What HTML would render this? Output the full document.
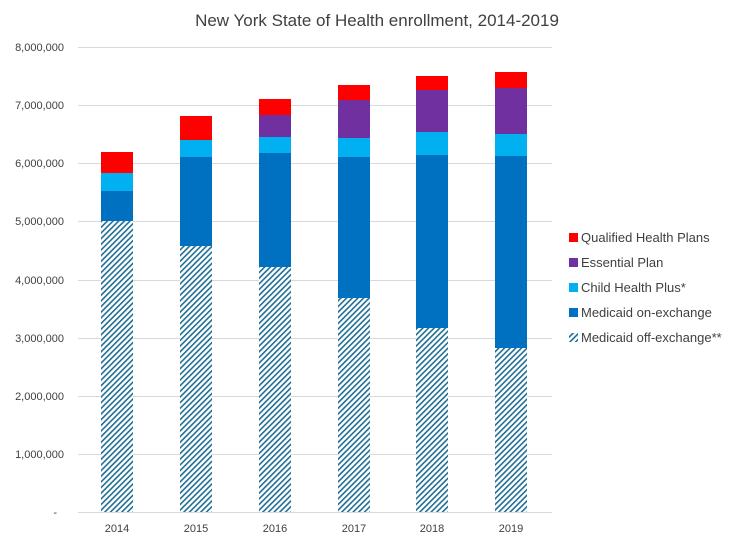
<!DOCTYPE html>
<html><head><meta charset="utf-8"><style>
html,body{margin:0;padding:0;background:#fff;}
svg{display:block;font-family:"Liberation Sans",sans-serif;}
</style></head><body>
<svg width="754" height="547" viewBox="0 0 754 547">
<defs>
<pattern id="h" patternUnits="userSpaceOnUse" width="4" height="4" patternTransform="rotate(45)">
<rect width="4" height="4" fill="#fff"/><rect width="1.6" height="4" fill="#1f6e93"/>
</pattern>
</defs>
<rect width="754" height="547" fill="#fff"/>
<text x="377" y="26" font-size="17" text-anchor="middle" fill="#404040">New York State of Health enrollment, 2014-2019</text>
<g stroke="#d9d9d9" stroke-width="1">
<line x1="78" x2="552" y1="47.5" y2="47.5"/><line x1="78" x2="552" y1="105.5" y2="105.5"/>
<line x1="78" x2="552" y1="163.5" y2="163.5"/><line x1="78" x2="552" y1="221.5" y2="221.5"/>
<line x1="78" x2="552" y1="280.5" y2="280.5"/><line x1="78" x2="552" y1="338.5" y2="338.5"/>
<line x1="78" x2="552" y1="396.5" y2="396.5"/><line x1="78" x2="552" y1="454.5" y2="454.5"/>
<line x1="78" x2="552" y1="512.5" y2="512.5"/>
</g>
<g font-size="11" fill="#404040" text-anchor="end">
<text x="64" y="51">8,000,000</text><text x="64" y="109">7,000,000</text>
<text x="64" y="167">6,000,000</text><text x="64" y="225">5,000,000</text>
<text x="64" y="284">4,000,000</text><text x="64" y="342">3,000,000</text>
<text x="64" y="400">2,000,000</text><text x="64" y="458">1,000,000</text>
<text x="57" y="516">-</text>
</g>
<g font-size="11" fill="#404040" text-anchor="middle">
<text x="117" y="532">2014</text><text x="196" y="532">2015</text><text x="275" y="532">2016</text>
<text x="354" y="532">2017</text><text x="432" y="532">2018</text><text x="511" y="532">2019</text>
</g>
<g transform="translate(101,0)">
<rect y="221" width="32" height="291" fill="url(#h)"/>
<rect y="191" width="32" height="30" fill="#0070c0"/>
<rect y="173" width="32" height="18" fill="#00b0f0"/>
<rect y="152" width="32" height="21" fill="#ff0000"/>
</g>
<g transform="translate(180,0)">
<rect y="246" width="32" height="266" fill="url(#h)"/>
<rect y="157" width="32" height="89" fill="#0070c0"/>
<rect y="140" width="32" height="17" fill="#00b0f0"/>
<rect y="116" width="32" height="24" fill="#ff0000"/>
</g>
<g transform="translate(259,0)">
<rect y="267" width="32" height="245" fill="url(#h)"/>
<rect y="153" width="32" height="114" fill="#0070c0"/>
<rect y="137" width="32" height="16" fill="#00b0f0"/>
<rect y="115" width="32" height="22" fill="#7030a0"/>
<rect y="99" width="32" height="16" fill="#ff0000"/>
</g>
<g transform="translate(338,0)">
<rect y="298" width="32" height="214" fill="url(#h)"/>
<rect y="157" width="32" height="141" fill="#0070c0"/>
<rect y="138" width="32" height="19" fill="#00b0f0"/>
<rect y="100" width="32" height="38" fill="#7030a0"/>
<rect y="85" width="32" height="15" fill="#ff0000"/>
</g>
<g transform="translate(416,0)">
<rect y="328" width="32" height="184" fill="url(#h)"/>
<rect y="155" width="32" height="173" fill="#0070c0"/>
<rect y="132" width="32" height="23" fill="#00b0f0"/>
<rect y="90" width="32" height="42" fill="#7030a0"/>
<rect y="76" width="32" height="14" fill="#ff0000"/>
</g>
<g transform="translate(495,0)">
<rect y="348" width="32" height="164" fill="url(#h)"/>
<rect y="156" width="32" height="192" fill="#0070c0"/>
<rect y="134" width="32" height="22" fill="#00b0f0"/>
<rect y="88" width="32" height="46" fill="#7030a0"/>
<rect y="72" width="32" height="16" fill="#ff0000"/>
</g>
<g font-size="13" fill="#404040">
<rect x="569" y="233" width="9" height="9" fill="#ff0000"/><text x="581" y="242">Qualified Health Plans</text>
<rect x="569" y="258" width="9" height="9" fill="#7030a0"/><text x="581" y="267">Essential Plan</text>
<rect x="569" y="283" width="9" height="9" fill="#00b0f0"/><text x="581" y="292">Child Health Plus*</text>
<rect x="569" y="308" width="9" height="9" fill="#0070c0"/><text x="581" y="317">Medicaid on-exchange</text>
<rect x="569" y="333" width="9" height="9" fill="url(#h)"/><text x="581" y="342">Medicaid off-exchange**</text>
</g>
</svg>
</body></html>
